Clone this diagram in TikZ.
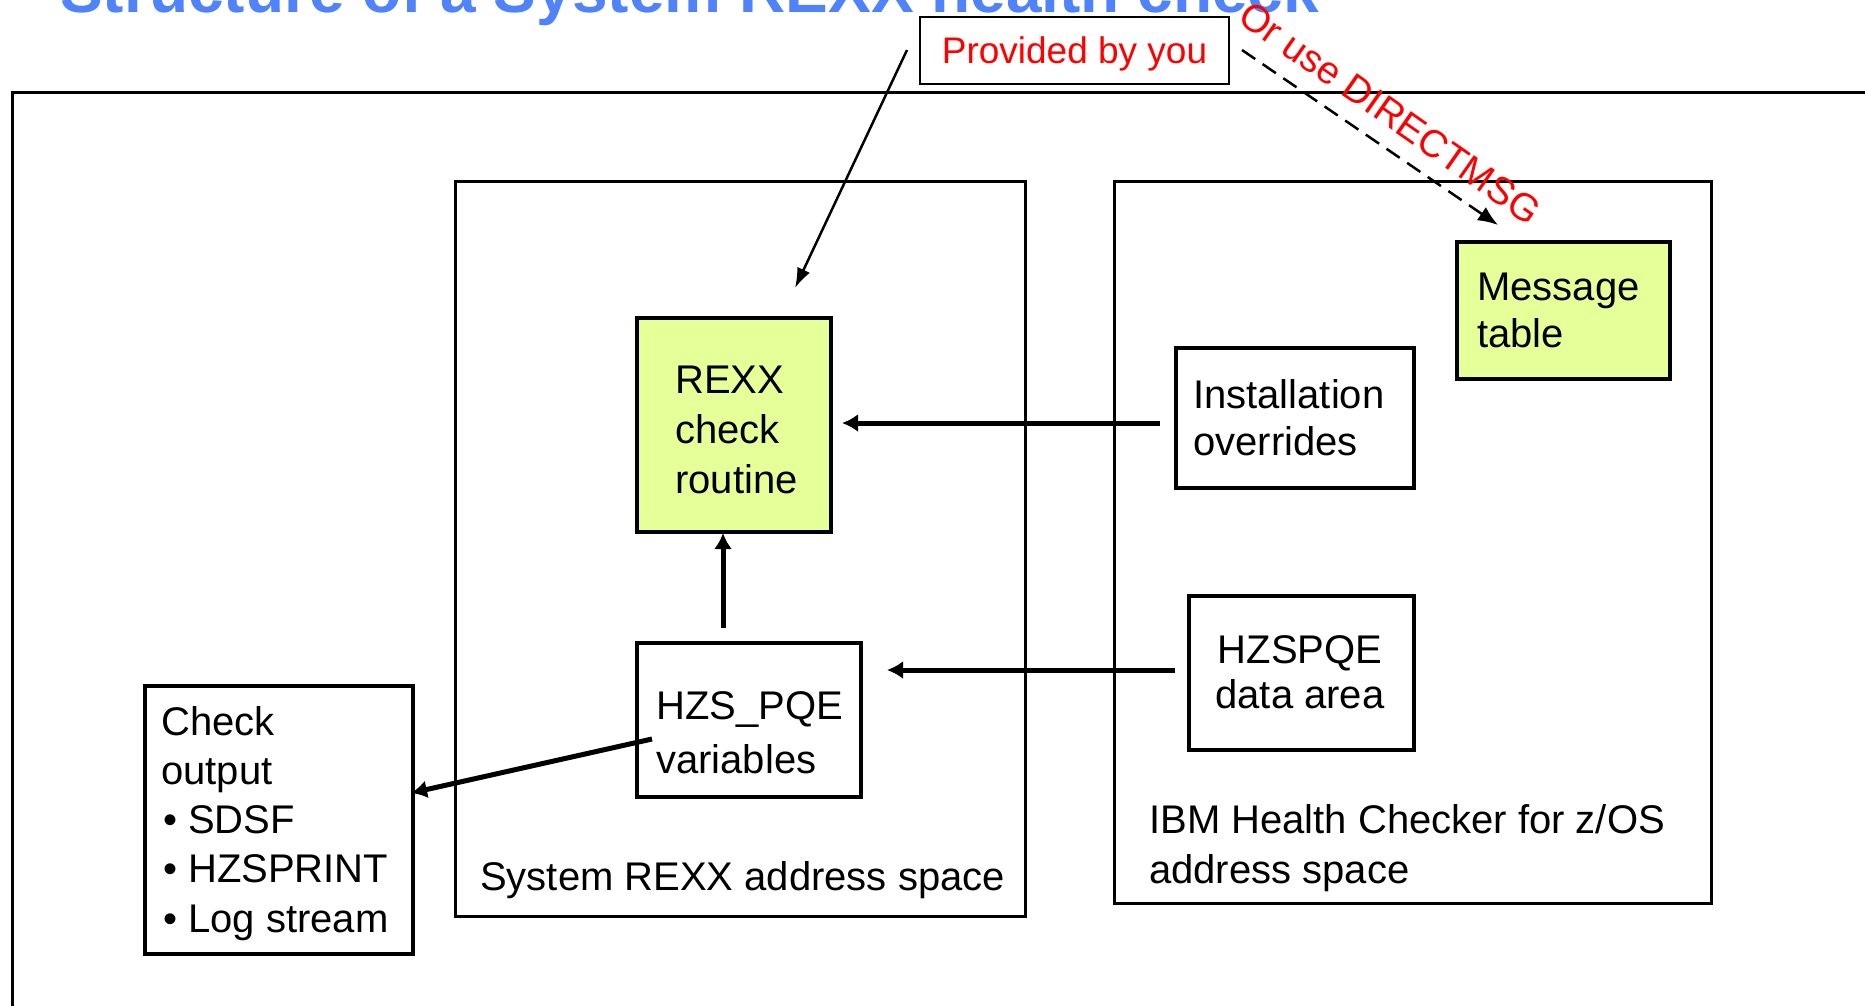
\documentclass[tikz,border=0pt]{standalone}
\usepackage{fontspec}
\setmainfont{Liberation Sans}
\usetikzlibrary{arrows.meta}
\definecolor{titleblue}{RGB}{80,130,250}
\definecolor{hcgreen}{RGB}{229,255,153}
\definecolor{hcred}{RGB}{255,0,0}
\newcommand{\mltext}[2][400pt]{\parbox[t]{#1}{\raggedright #2}}
\newcommand{\mlctext}[2][400pt]{\parbox[t]{#1}{\centering #2}}
\begin{document}
\begin{tikzpicture}[x=1pt,y=-1pt,
  frameline/.style={line width=3pt},
  boxnode/.style={draw, line width=3.5pt, inner sep=0pt, anchor=north west},
  outerbox/.style={draw, line width=3pt, inner sep=0pt, anchor=north west},
  greenbox/.style={boxnode, fill=hcgreen},
  txt/.style={anchor=base west, inner sep=0pt, font=\fontsize{40}{49}\selectfont},
  ctxt/.style={anchor=base, inner sep=0pt, font=\fontsize{40}{45}\selectfont},
  flow/.style={line width=5pt, -{Latex[length=16pt,width=18pt]}},
]
\useasboundingbox (0,0) rectangle (1865,1005);

% title (cut off by the top edge)
\node[anchor=base west, inner sep=0pt, text=titleblue,
      font=\fontsize{64}{70}\selectfont\bfseries] (title) at (60,12)
      {Structure of a System REXX health check};

% outer frame (open to the right and bottom)
\coordinate (fbl) at (12,1020);
\coordinate (ftl) at (12,92);
\coordinate (ftr) at (1880,92);
\draw[frameline] (fbl) -- (ftl) -- (ftr);

% address space boxes
\node[outerbox, minimum width=570pt, minimum height=735pt] (sysrexx) at (454,180) {};
\node[outerbox, minimum width=597pt, minimum height=722pt] (ibmhc) at (1113,180) {};

% inner boxes
\node[greenbox, minimum width=194pt, minimum height=214pt] (rexx) at (635,316) {};
\node[greenbox, minimum width=213pt, minimum height=137pt] (msgtab) at (1455,240) {};
\node[boxnode, minimum width=238pt, minimum height=140pt] (overrides) at (1174,346) {};
\node[boxnode, minimum width=225pt, minimum height=154pt] (hzspqe) at (1187,594) {};
\node[boxnode, minimum width=224pt, minimum height=154pt] (pqevars) at (635,641) {};
\node[boxnode, minimum width=268pt, minimum height=268pt] (output) at (143,684) {};
\node[draw, line width=2.5pt, inner sep=0pt, minimum width=309pt, minimum height=67pt,
      text depth=0pt, text=hcred, font=\fontsize{37}{40}\selectfont] (provided) at (1074.5,50.5) {Provided by you};

% texts
\node[txt, font=\fontsize{40}{50}\selectfont] (rexxtxt) at (675,393) {\mltext{REXX\\check\\routine}};
\node[txt, font=\fontsize{40}{47}\selectfont] (msgtxt) at (1477,300) {\mltext{Message\\table}};
\node[txt, font=\fontsize{40}{47}\selectfont] (ovtxt) at (1193,408) {\mltext{Installation\\overrides}};
\node[ctxt] (pqetxt) at (1300,663) {\mlctext[300pt]{HZSPQE\\data area}};
\node[txt, font=\fontsize{40}{54}\selectfont] (varstxt) at (656,719) {\mltext{HZS\_PQE\\variables}};
\node[txt, font=\fontsize{40}{49.3}\selectfont] (outtxt) at (161,735)
  {\mltext{Check\\output\\\hspace*{2pt}• SDSF\\\hspace*{2pt}• HZSPRINT\\\hspace*{2pt}• Log stream}};
\node[txt] (systxt) at (480,890) {System REXX address space};
\node[txt, font=\fontsize{40}{50}\selectfont] (ibmtxt) at (1149,833) {\mltext[560pt]{IBM Health Checker for z/OS\\address space}};

\node[rotate=-35, text=hcred, inner sep=0pt, font=\fontsize{38.5}{42}\selectfont] (directmsg) at (1390,113) {Or use DIRECTMSG};

% connectors
\coordinate (pstart) at (907,50);
\coordinate (pend) at (795,288);
\draw[line width=2.5pt, -{Latex[length=20pt,width=14pt]}] (pstart) -- (pend);

\coordinate (dstart) at (1242,50);
\coordinate (dend) at (1498,225);
\draw[line width=2.5pt, dash pattern=on 16pt off 9pt, -{Latex[length=20pt,width=16pt]}] (dstart) -- (dend);

\coordinate (ovs) at (1160,423);
\coordinate (ove) at (842,423);
\draw[flow] (ovs) -- (ove);

\coordinate (pqs) at (1175,670);
\coordinate (pqe) at (887,670);
\draw[flow] (pqs) -- (pqe);

\coordinate (ups) at (723,628);
\coordinate (upe) at (723,533);
\draw[flow] (ups) -- (upe);

\coordinate (outs) at (652,739);
\coordinate (oute) at (411,793);
\draw[flow] (outs) -- (oute);
\end{tikzpicture}
\end{document}
